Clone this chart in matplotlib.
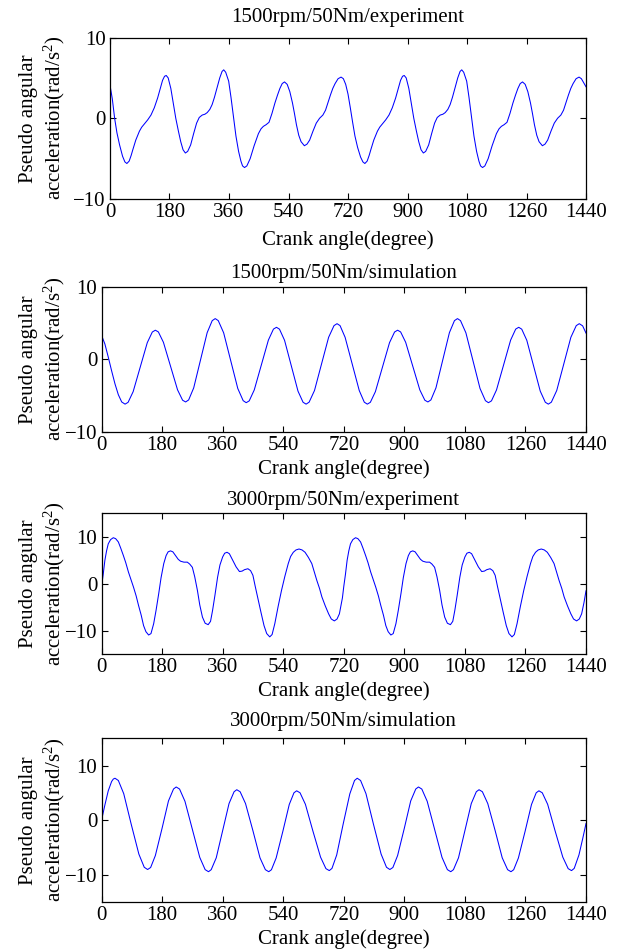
import matplotlib
matplotlib.use("Agg")
import matplotlib.pyplot as plt

plt.rcParams["font.family"] = ["Liberation Serif", "DejaVu Serif"]
plt.rcParams["mathtext.fontset"] = "custom"
plt.rcParams["mathtext.rm"] = "Liberation Serif"
plt.rcParams["mathtext.it"] = "Liberation Serif:italic"

# crank angle ticks (degree)
crank_ticks = [0, 180, 360, 540, 720, 900, 1080, 1260, 1440]

# 1500rpm/50Nm/experiment
exp1500_angle = [0, 7, 14, 21, 29, 38, 45, 51, 58, 64, 69, 78, 89, 96, 104, 114, 124, 134, 144, 152,
                 159, 165, 170, 176, 184, 191, 199, 207, 214, 221, 228, 235, 244, 253, 262, 270, 279, 287, 294, 302,
                 309, 316, 324, 332, 339, 344, 350, 359, 366, 374, 381, 389, 396, 401, 407, 414, 424, 436, 449, 457,
                 464, 472, 481, 490, 499, 507, 514, 521, 528, 536, 544, 552, 558, 564, 571, 578, 588, 596, 604, 614,
                 624, 634, 644, 652, 659, 667, 674, 681, 690, 699, 706, 713, 720, 727, 734, 741, 749, 758, 765, 771,
                 778, 784, 789, 798, 809, 816, 824, 834, 844, 854, 864, 872, 879, 885, 890, 896, 904, 911, 919, 927,
                 934, 941, 948, 955, 964, 973, 982, 990, 999, 1007, 1014, 1022, 1029, 1036, 1044, 1052, 1059, 1064, 1070, 1079,
                 1086, 1094, 1101, 1109, 1116, 1121, 1127, 1134, 1144, 1156, 1169, 1177, 1184, 1192, 1201, 1210, 1219, 1227, 1234, 1241,
                 1248, 1256, 1264, 1272, 1278, 1284, 1291, 1298, 1308, 1316, 1324, 1334, 1344, 1354, 1364, 1372, 1379, 1387, 1394, 1401,
                 1410, 1419, 1426, 1433, 1440]
exp1500_acc = [4.1, 2.4, 0.0, -1.8, -3.3, -4.7, -5.4, -5.6, -5.3, -4.6, -3.9, -2.7, -1.6, -1.1, -0.7, -0.2, 0.4, 1.3, 2.5, 3.7,
               4.7, 5.2, 5.3, 5.0, 3.7, 2.0, 0.0, -1.6, -2.9, -3.9, -4.3, -4.1, -3.3, -1.9, -0.6, 0.1, 0.4, 0.5, 0.7, 1.1,
               1.7, 2.6, 3.8, 5.0, 5.8, 6.0, 5.7, 4.6, 2.6, 0.0, -2.2, -4.1, -5.3, -5.9, -6.1, -5.9, -5.0, -3.4, -1.9, -1.3,
               -1.0, -0.8, -0.5, 0.6, 1.9, 2.9, 3.7, 4.3, 4.5, 4.2, 3.3, 1.9, 0.6, -0.8, -2.1, -2.9, -3.4, -3.2, -2.7, -1.6,
               -0.6, 0.0, 0.4, 1.0, 1.9, 2.9, 3.7, 4.3, 4.9, 5.1, 4.9, 4.2, 3.0, 1.3, -0.5, -2.2, -3.6, -4.8, -5.4, -5.6,
               -5.3, -4.6, -3.9, -2.7, -1.6, -1.1, -0.7, -0.2, 0.4, 1.3, 2.5, 3.7, 4.7, 5.2, 5.3, 5.0, 3.7, 2.0, 0.0, -1.6,
               -2.9, -3.9, -4.3, -4.1, -3.3, -1.9, -0.6, 0.1, 0.4, 0.5, 0.7, 1.1, 1.7, 2.6, 3.8, 5.0, 5.8, 6.0, 5.7, 4.6,
               2.6, 0.0, -2.2, -4.1, -5.3, -5.9, -6.1, -5.9, -5.0, -3.4, -1.9, -1.3, -1.0, -0.8, -0.5, 0.6, 1.9, 2.9, 3.7, 4.3,
               4.5, 4.2, 3.3, 1.9, 0.6, -0.8, -2.1, -2.9, -3.4, -3.2, -2.7, -1.6, -0.6, 0.0, 0.4, 1.0, 1.9, 2.9, 3.7, 4.3,
               4.9, 5.1, 4.9, 4.4, 3.9]

# 1500rpm/50Nm/simulation
sim1500_angle = [0, 10, 20, 30, 40, 50, 60, 70, 79, 94, 115, 136, 151, 160, 169, 184, 205, 226, 241, 250,
                 259, 274, 294, 314, 329, 338, 347, 363, 384, 405, 421, 430, 439, 454, 475, 496, 511, 520, 529, 544,
                 564, 584, 599, 608, 617, 633, 654, 675, 691, 700, 709, 724, 745, 766, 781, 790, 799, 814, 835, 856,
                 871, 880, 889, 904, 925, 946, 961, 970, 979, 994, 1014, 1034, 1049, 1058, 1067, 1083, 1104, 1125, 1141, 1150,
                 1159, 1174, 1195, 1216, 1231, 1240, 1249, 1264, 1284, 1304, 1319, 1328, 1337, 1353, 1374, 1395, 1411, 1420, 1430, 1440]
sim1500_acc = [3.3, 2.1, 0.3, -1.6, -3.4, -4.9, -5.9, -6.2, -5.95, -4.48, -1.1, 2.28, 3.75, 4.0, 3.76, 2.33, -0.95, -4.23, -5.66, -5.9,
               -5.62, -3.96, -0.15, 3.66, 5.32, 5.6, 5.32, 3.64, -0.2, -4.04, -5.72, -6.0, -5.75, -4.24, -0.8, 2.64, 4.15, 4.4, 4.14, 2.61,
               -0.9, -4.41, -5.94, -6.2, -5.93, -4.32, -0.65, 3.02, 4.63, 4.9, 4.63, 3.02, -0.65, -4.32, -5.93, -6.2, -5.95, -4.48, -1.1, 2.28,
               3.75, 4.0, 3.76, 2.33, -0.95, -4.23, -5.66, -5.9, -5.62, -3.96, -0.15, 3.66, 5.32, 5.6, 5.32, 3.64, -0.2, -4.04, -5.72, -6.0,
               -5.75, -4.24, -0.8, 2.64, 4.15, 4.4, 4.14, 2.61, -0.9, -4.41, -5.94, -6.2, -5.93, -4.32, -0.65, 3.02, 4.63, 4.9, 4.6, 3.6]

# 3000rpm/50Nm/experiment
exp3000_angle = [0, 5, 10, 15, 20, 27, 35, 42, 50, 57, 65, 72, 80, 88, 95, 103, 110, 118, 125, 132,
                 140, 147, 155, 162, 170, 177, 185, 192, 198, 205, 212, 220, 228, 235, 245, 255, 262, 270, 277, 285,
                 292, 300, 308, 317, 324, 330, 337, 345, 352, 360, 366, 373, 380, 390, 400, 410, 418, 425, 435, 443,
                 450, 457, 465, 474, 483, 491, 500, 507, 515, 525, 535, 545, 555, 562, 570, 578, 587, 596, 605, 615,
                 625, 632, 640, 648, 655, 665, 675, 683, 692, 700, 707, 716, 720, 725, 730, 735, 740, 747, 755, 762,
                 770, 777, 785, 792, 800, 808, 815, 823, 830, 838, 845, 852, 860, 867, 875, 882, 890, 897, 905, 912,
                 918, 925, 932, 940, 948, 955, 965, 975, 982, 990, 997, 1005, 1012, 1020, 1028, 1037, 1044, 1050, 1057, 1065,
                 1072, 1080, 1086, 1093, 1100, 1110, 1120, 1130, 1138, 1145, 1155, 1163, 1170, 1177, 1185, 1194, 1203, 1211, 1220, 1227,
                 1235, 1245, 1255, 1265, 1275, 1282, 1290, 1298, 1307, 1316, 1325, 1335, 1345, 1352, 1360, 1368, 1375, 1385, 1395, 1403,
                 1412, 1420, 1427, 1434, 1440]
exp3000_acc = [-0.6, 2.0, 5.0, 7.0, 8.5, 9.4, 9.8, 9.6, 8.9, 7.6, 6.0, 4.5, 2.5, 0.8, -0.7, -2.6, -4.6, -6.7, -8.9, -10.2,
               -10.9, -10.6, -8.5, -5.7, -2.1, 1.3, 4.3, 6.0, 6.8, 7.0, 6.8, 6.0, 5.2, 4.8, 4.6, 4.6, 4.2, 3.5, 1.5, -1.4,
               -4.5, -7.1, -8.4, -8.7, -8.0, -5.7, -2.5, 1.4, 4.0, 5.7, 6.5, 6.7, 6.4, 5.0, 3.6, 2.6, 2.7, 3.0, 3.2, 2.8,
               1.8, -0.6, -3.2, -6.1, -8.9, -10.6, -11.3, -10.8, -8.5, -4.8, -1.4, 1.6, 4.3, 5.8, 6.7, 7.2, 7.4, 7.2, 6.7, 5.6,
               4.3, 2.6, 0.7, -1.0, -2.8, -4.7, -6.4, -7.5, -7.9, -7.5, -6.4, -3.0, -0.6, 2.0, 5.0, 7.0, 8.5, 9.4, 9.8, 9.6,
               8.9, 7.6, 6.0, 4.5, 2.5, 0.8, -0.7, -2.6, -4.6, -6.7, -8.9, -10.2, -10.9, -10.6, -8.5, -5.7, -2.1, 1.3, 4.3, 6.0,
               6.8, 7.0, 6.8, 6.0, 5.2, 4.8, 4.6, 4.6, 4.2, 3.5, 1.5, -1.4, -4.5, -7.1, -8.4, -8.7, -8.0, -5.7, -2.5, 1.4,
               4.0, 5.7, 6.5, 6.7, 6.4, 5.0, 3.6, 2.6, 2.7, 3.0, 3.2, 2.8, 1.8, -0.6, -3.2, -6.1, -8.9, -10.6, -11.3, -10.8,
               -8.5, -4.8, -1.4, 1.6, 4.3, 5.8, 6.7, 7.2, 7.4, 7.2, 6.7, 5.6, 4.3, 2.6, 0.7, -1.0, -2.8, -4.7, -6.4, -7.5,
               -7.9, -7.5, -6.4, -4.0, -1.5]

# 3000rpm/50Nm/simulation
sim3000_angle = [0, 10, 20, 30, 35, 40, 50, 66, 88, 111, 127, 137, 146, 160, 180, 199, 214, 222, 232, 248,
                 270, 292, 308, 318, 326, 341, 360, 379, 394, 402, 412, 428, 450, 471, 487, 497, 505, 519, 539, 558,
                 572, 580, 590, 606, 628, 651, 667, 677, 685, 699, 718, 738, 752, 760, 770, 786, 808, 831, 847, 857,
                 866, 880, 900, 919, 934, 942, 952, 968, 990, 1012, 1028, 1038, 1046, 1061, 1080, 1099, 1114, 1122, 1132, 1148,
                 1170, 1191, 1207, 1217, 1225, 1239, 1259, 1278, 1292, 1300, 1310, 1326, 1348, 1371, 1387, 1397, 1405, 1419, 1430, 1440]
sim3000_acc = [0.0, 2.8, 5.4, 7.1, 7.55, 7.7, 7.29, 4.88, -0.65, -6.18, -8.59, -9.0, -8.63, -6.45, -1.45, 3.55, 5.73, 6.1, 5.72, 3.48,
               -1.65, -6.78, -9.02, -9.4, -9.03, -6.86, -1.9, 3.07, 5.23, 5.6, 5.23, 3.07, -1.9, -6.86, -9.03, -9.4, -9.04, -6.9, -2.0, 2.9,
               5.04, 5.4, 5.04, 2.93, -1.9, -6.73, -8.84, -9.2, -8.79, -6.34, -0.75, 4.84, 7.29, 7.7, 7.29, 4.88, -0.65, -6.18, -8.59, -9.0,
               -8.63, -6.45, -1.45, 3.55, 5.73, 6.1, 5.72, 3.48, -1.65, -6.78, -9.02, -9.4, -9.03, -6.86, -1.9, 3.07, 5.23, 5.6, 5.23, 3.07,
               -1.9, -6.86, -9.03, -9.4, -9.04, -6.9, -2.0, 2.9, 5.04, 5.4, 5.04, 2.93, -1.9, -6.73, -8.84, -9.2, -8.79, -6.34, -3.4, -0.6]

titles = ["1500rpm/50Nm/experiment", "1500rpm/50Nm/simulation",
          "3000rpm/50Nm/experiment", "3000rpm/50Nm/simulation"]
ylims = [(-10, 10), (-10, 10), (-15, 15), (-15, 15)]


def draw_panel(fig, rect, angle, acc, title, ylim, title_pad, xlabel_pad):
    ax = fig.add_axes(rect)
    ax.plot(angle, acc, color=(0, 0, 1), linewidth=0.75)
    ax.set_xlim(0, 1440)
    ax.set_ylim(ylim)
    ax.set_xticks(crank_ticks)
    ax.set_yticks([-10, 0, 10])
    ax.tick_params(direction="in", top=True, right=True, length=4, width=0.8,
                   labelsize=15, pad=3)
    for s in ax.spines.values():
        s.set_linewidth(0.9)
    ax.set_title(title, fontsize=15, pad=title_pad)
    ax.set_xlabel("Crank angle(degree)", fontsize=15, labelpad=xlabel_pad)
    ax.set_ylabel("Pseudo angular\nacceleration(rad/s$^2$)", fontsize=15)
    ax.yaxis.set_label_coords(0.108, rect[1] + rect[3] / 2, transform=fig.transFigure)
    return ax


fig = plt.figure(figsize=(6.19, 9.5), dpi=100, facecolor="w")

rects = [[0.1777, 0.7905, 0.769, 0.170],
         [0.164, 0.5456, 0.7827, 0.1526],
         [0.164, 0.3113, 0.7827, 0.1484],
         [0.164, 0.0502, 0.7827, 0.1726]]
title_pads = [11, 6, 6, 9]
xlabel_pads = [6, 3, 3, 3]
series = [(exp1500_angle, exp1500_acc), (sim1500_angle, sim1500_acc),
          (exp3000_angle, exp3000_acc), (sim3000_angle, sim3000_acc)]

for i in range(4):
    draw_panel(fig, rects[i], series[i][0], series[i][1], titles[i], ylims[i],
               title_pads[i], xlabel_pads[i])

fig.savefig("out.png", dpi=100, facecolor="w")
